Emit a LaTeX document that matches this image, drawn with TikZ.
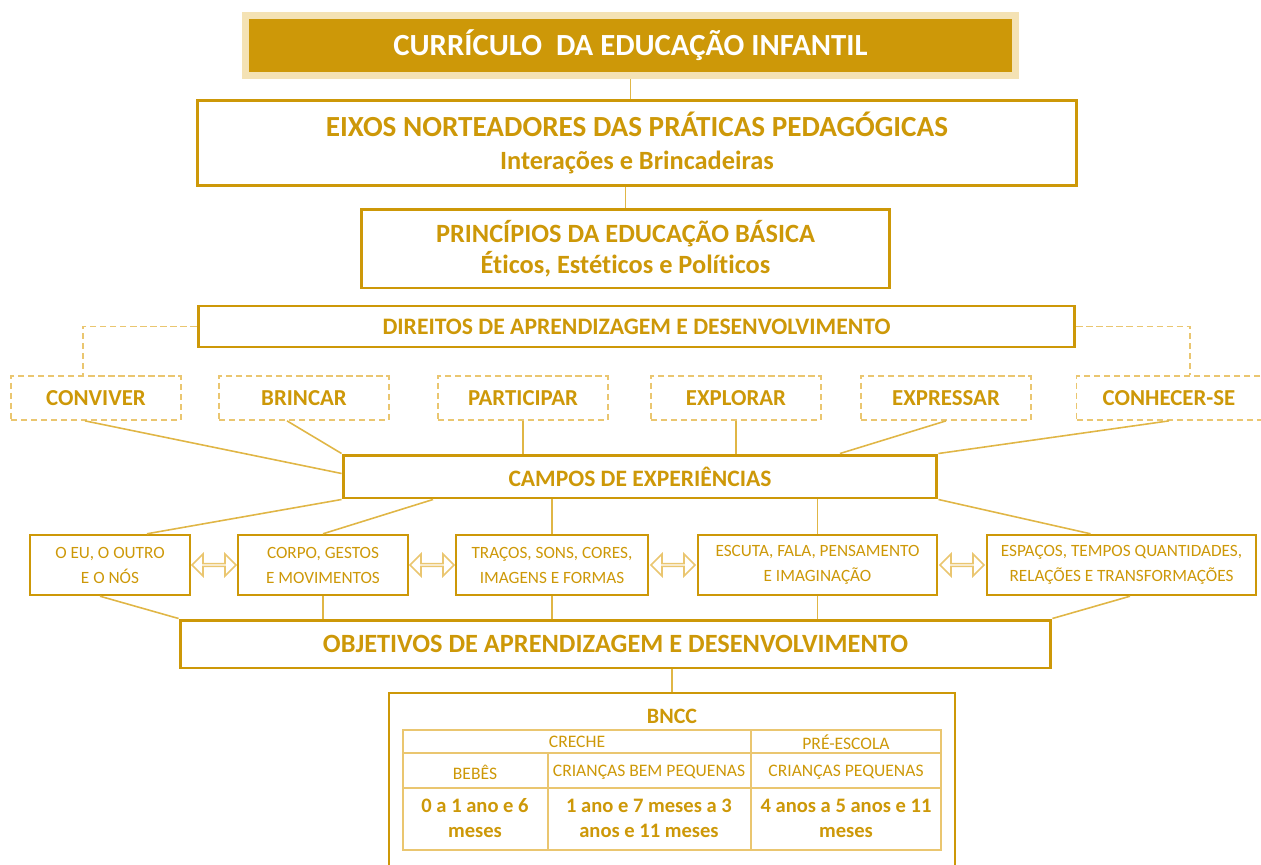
\documentclass[tikz,border=0pt]{standalone}
\usepackage{fontspec}
\setmainfont{Carlito}[Ligatures=NoCommon]
\usetikzlibrary{shapes.arrows}
\definecolor{ouro}{RGB}{205,152,8}
\definecolor{ourolinha}{RGB}{224,182,70}
\definecolor{ouroclaro}{RGB}{234,198,112}
\definecolor{ouropalido}{RGB}{244,226,180}

\begin{document}
\begin{tikzpicture}[x=0.02cm,y=-0.02cm]
\tikzstyle{caixa}=[draw=ouro, line width=1.7pt, text=ouro, font=\bfseries, align=center, inner sep=0pt]
\tikzstyle{direito}=[draw=ouroclaro, line width=1pt, dash pattern=on 3.5pt off 2.2pt, text=ouro, font=\bfseries\fontsize{13pt}{14pt}\selectfont, minimum width=3.4cm, minimum height=0.88cm, inner sep=0pt]
\tikzstyle{campo}=[draw=ouro, line width=1.4pt, text=ouro, font=\fontsize{9.8pt}{14.2pt}\selectfont, align=center, minimum height=1.2cm, inner sep=0pt]
\tikzstyle{liga}=[draw=ourolinha, line width=0.9pt]
\tikzstyle{tracejada}=[draw=ouroclaro, line width=1pt, dash pattern=on 3.5pt off 2.2pt]
\tikzstyle{troca}=[double arrow, draw=ouroclaro, fill=white, line width=0.9pt, minimum height=0.88cm, minimum width=0.44cm, double arrow head extend=0.11cm, inner sep=0pt]
\tikzstyle{tabela}=[draw=ouroclaro, line width=0.9pt]
\tikzstyle{celula}=[text=ouro, font=\fontsize{10pt}{11pt}\selectfont, align=center, inner sep=0pt]
\tikzstyle{idade}=[text=ouro, font=\bfseries\fontsize{11.7pt}{14.2pt}\selectfont, align=center, inner sep=0pt]

\useasboundingbox (0,0) rectangle (1261,865);

\node[fill=ouro, draw=ouropalido, line width=4pt, text=white, font=\bfseries\fontsize{17.5pt}{19pt}\selectfont, minimum width=15.4cm, minimum height=1.2cm, inner sep=0pt] (curriculo) at (630.5,45.5) {CURRÍCULO~ DA EDUCAÇÃO INFANTIL};

\node[caixa, minimum width=17.6cm, minimum height=1.72cm, font=\bfseries\fontsize{15pt}{18.7pt}\selectfont] (eixos) at (637,143)
  {{\fontsize{16.6pt}{18.7pt}\selectfont EIXOS NORTEADORES DAS PRÁTICAS PEDAGÓGICAS}\\Interações e Brincadeiras};
\node[caixa, minimum width=10.58cm, minimum height=1.58cm, font=\bfseries\fontsize{15pt}{17.6pt}\selectfont] (principios) at (625.5,248.5)
  {{\fontsize{15pt}{17.6pt}\selectfont PRINCÍPIOS DA EDUCAÇÃO BÁSICA}\\Éticos, Estéticos e Políticos};
\node[caixa, minimum width=17.54cm, minimum height=0.82cm, font=\bfseries\fontsize{13.45pt}{14pt}\selectfont] (direitos) at (636.5,326.5) {DIREITOS DE APRENDIZAGEM E DESENVOLVIMENTO};

\node[direito] (conviver) at (96,398) {CONVIVER};
\node[direito] (brincar) at (304,398) {BRINCAR};
\node[direito] (participar) at (523,398) {PARTICIPAR};
\node[direito] (explorar) at (736,398) {EXPLORAR};
\node[direito] (expressar) at (946,398) {EXPRESSAR};
\node[direito, minimum width=3.7cm] (conhecer) at (1169,398) {CONHECER-SE};

\node[caixa, minimum width=11.88cm, minimum height=0.86cm, font=\bfseries\fontsize{13.4pt}{14pt}\selectfont] (campos) at (640,476.5) {CAMPOS DE EXPERIÊNCIAS};

\node[campo, minimum width=3.2cm] (eu) at (110,565) {O EU, O OUTRO\\E O NÓS};
\node[campo, minimum width=3.4cm] (corpo) at (323,565) {CORPO, GESTOS\\E MOVIMENTOS};
\node[campo, minimum width=3.84cm] (tracos) at (552,565) {TRAÇOS, SONS, CORES,\\IMAGENS E FORMAS};
\node[campo, minimum width=4.78cm] (escuta) at (817.5,565) {ESCUTA, FALA, PENSAMENTO\\E IMAGINAÇÃO};
\node[campo, minimum width=5.38cm] (espacos) at (1121.5,565) {ESPAÇOS, TEMPOS QUANTIDADES,\\RELAÇÕES E TRANSFORMAÇÕES};

\node[troca] (troca1) at (214,565) {};
\node[troca] (troca2) at (432,565) {};
\node[troca] (troca3) at (673,565) {};
\node[troca] (troca4) at (962,565) {};

\node[caixa, minimum width=17.42cm, minimum height=0.96cm, font=\bfseries\fontsize{15pt}{16pt}\selectfont] (objetivos) at (615.5,644) {OBJETIVOS DE APRENDIZAGEM E DESENVOLVIMENTO};

\node[caixa, line width=1.5pt, minimum width=11.32cm, minimum height=3.6cm] (bncc) at (672,783) {};
\node[text=ouro, font=\bfseries\fontsize{12.5pt}{14pt}\selectfont, inner sep=0pt] (bnccrotulo) at (672,716) {BNCC};

\draw[tabela] (403,730) rectangle (941,850);
\draw[tabela] (403,753) -- (941,753);
\draw[tabela] (403,788) -- (941,788);
\draw[tabela] (548,753) -- (548,850);
\draw[tabela] (751,730) -- (751,850);
\node[celula] (creche) at (577,742) {CRECHE};
\node[celula] (preescola) at (846,742) {PRÉ-ESCOLA};
\node[celula] (bebes) at (475,772) {BEBÊS};
\node[celula] (bempequenas) at (649,772) {CRIANÇAS BEM PEQUENAS};
\node[celula] (pequenas) at (846,772) {CRIANÇAS PEQUENAS};
\node[idade] (idbebes) at (475,818) {0 a 1 ano e 6\\meses};
\node[idade] (idbem) at (649,818) {1 ano e 7 meses a 3\\anos e 11 meses};
\node[idade] (idpeq) at (846,818) {4 anos a 5 anos e 11\\meses};

\draw[liga] (curriculo.south) -- (curriculo.south |- eixos.north);
\draw[liga] (principios.north) -- (principios.north |- eixos.south);
\draw[tracejada] (direitos.west) -| ([xshift=-0.26cm]conviver.north);
\draw[tracejada] (direitos.east) -| ([xshift=0.42cm]conhecer.north);
\draw[liga] ([xshift=-0.22cm]conviver.south) -- ([yshift=0.06cm]campos.west);
\draw[liga] ([xshift=-0.34cm]brincar.south) -- (campos.north west);
\draw[liga] (participar.south) -- (participar.south |- campos.north);
\draw[liga] (explorar.south) -- (explorar.south |- campos.north);
\draw[liga] (expressar.south) -- ([xshift=4cm]campos.north);
\draw[liga] (conhecer.south) -- (campos.north east);
\draw[liga] (campos.south west) -- ([xshift=0.74cm]eu.north);
\draw[liga] ([xshift=-4.14cm]campos.south) -- (corpo.north);
\draw[liga] (tracos.north) -- (tracos.north |- campos.south);
\draw[liga] (escuta.north) -- (escuta.north |- campos.south);
\draw[liga] (campos.south east) -- ([xshift=-0.62cm]espacos.north);
\draw[liga] ([xshift=-0.2cm]eu.south) -- (objetivos.north west);
\draw[liga] (corpo.south) -- (corpo.south |- objetivos.north);
\draw[liga] (tracos.south) -- (tracos.south |- objetivos.north);
\draw[liga] (escuta.south) -- (escuta.south |- objetivos.north);
\draw[liga] ([xshift=0.17cm]espacos.south) -- (objetivos.north east);
\draw[liga] (bncc.north) -- (bncc.north |- objetivos.south);
\end{tikzpicture}
\end{document}
